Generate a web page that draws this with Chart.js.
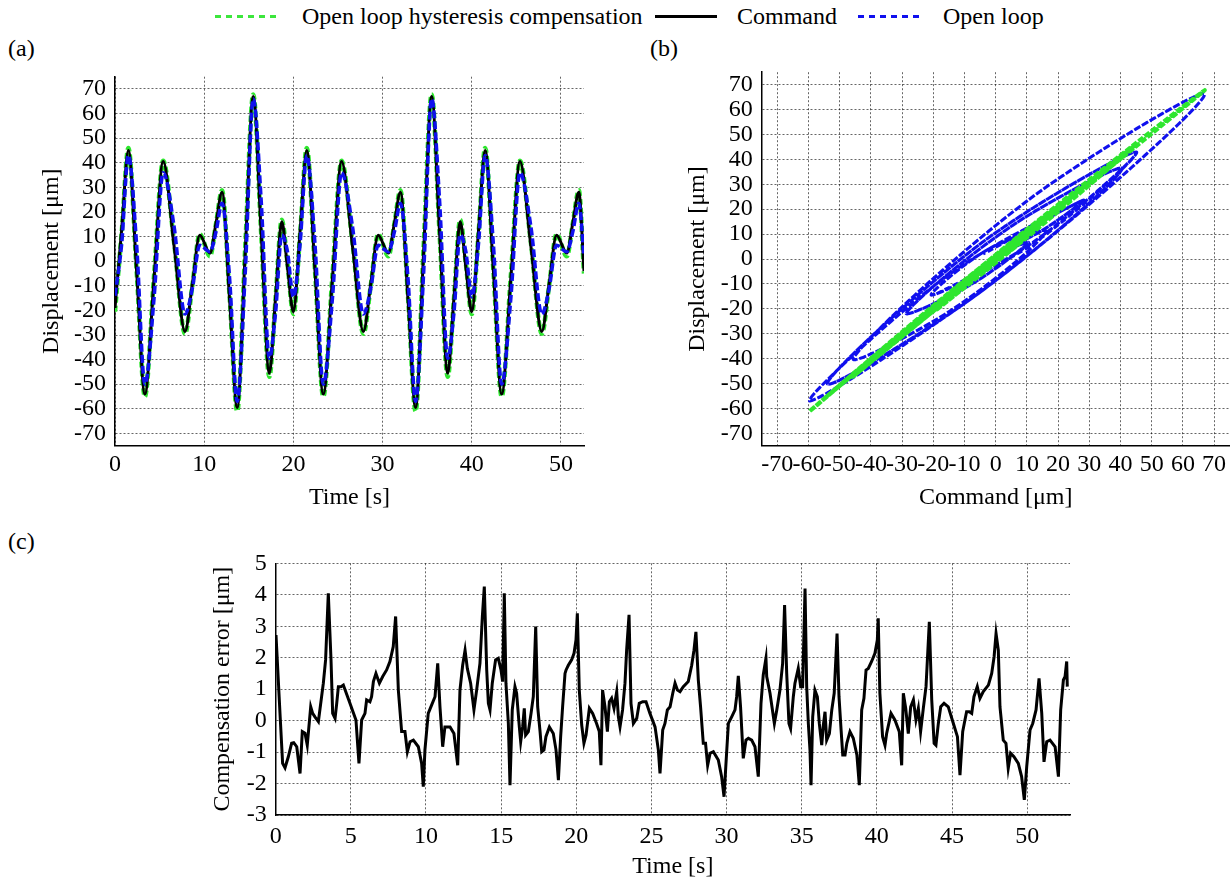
<!DOCTYPE html>
<html>
<head>
<meta charset="utf-8">
<title>Open loop hysteresis compensation</title>
<script src="https://cdn.jsdelivr.net/npm/chart.js@4.4.1/dist/chart.umd.min.js"></script>
<style>
body { margin:0; width:1232px; height:883px; position:relative; background:#fff; overflow:hidden;
       font-family:"Liberation Serif","Times New Roman",serif; color:#000; }
canvas { position:absolute; }
.txt { position:absolute; font-size:24px; line-height:24px; white-space:nowrap; }
.sample { position:absolute; height:3px; top:15px; }
</style>
</head>
<body>

<div class="sample" style="left:215px;width:62px;background:repeating-linear-gradient(to right,#3ce63c 0 6px,transparent 6px 11px)"></div>
<div class="txt" style="left:302px;top:4px">Open loop hysteresis compensation</div>
<div class="sample" style="left:655px;width:62px;background:#000"></div>
<div class="txt" style="left:737px;top:4px">Command</div>
<div class="sample" style="left:858px;width:65px;background:repeating-linear-gradient(to right,#1010ee 0 6px,transparent 6px 11px)"></div>
<div class="txt" style="left:943px;top:4px">Open loop</div>

<div class="txt" style="left:8px;top:36px">(a)</div>
<div class="txt" style="left:650px;top:36px">(b)</div>
<div class="txt" style="left:8px;top:529px">(c)</div>

<canvas id="chartA" width="600" height="470" style="left:0;top:60px"></canvas>
<canvas id="chartB" width="612" height="470" style="left:620px;top:60px"></canvas>
<canvas id="chartC" width="940" height="338" style="left:150px;top:545px"></canvas>

<script>
// time series (a) : extrema and mid-branch points
var tA = [0, 0.75, 1.5, 2.43, 3.35, 4.38, 5.4, 6.63, 7.85, 8.68, 9.5, 10.65, 11.33, 12.0, 12.85, 13.7, 14.6, 15.5, 16.4, 17.3, 18.0, 18.7, 19.33,
          20.0, 20.75, 21.5, 22.43, 23.35, 24.38, 25.4, 26.63, 27.85, 28.68, 29.5, 30.65, 31.33, 32.0, 32.85, 33.7, 34.6, 35.5, 36.4, 37.3, 38.0, 38.7, 39.33,
          40.0, 40.75, 41.5, 42.43, 43.35, 44.38, 45.4, 46.63, 47.85, 48.68, 49.5, 50.65, 51.33, 52.0, 52.58];
var cmdA = [-19, 13, 45, -4.5, -54, -6.8, 40.5, 6, -28.6, -9, 10.5, 3.3, 15.6, 28, -15.8, -59.5, 3.8, 67, 10.8, -45.5, -14.8, 16, -2.3,
            -20.5, 12.3, 45, -4.5, -54, -6.8, 40.5, 6, -28.6, -9, 10.5, 3.3, 15.6, 28, -15.8, -59.5, 3.8, 67, 10.8, -45.5, -14.8, 16, -2.3,
            -20.5, 12.3, 45, -4.5, -54, -6.8, 40.5, 6, -28.6, -9, 10.5, 3.3, 15.6, 28, -4];
var openA = [-14, 7, 43, 6.5, -50, -15, 36, 14, -21.5, -11, 6.5, 3.8, 12, 23.6, -7, -57, -5, 66, 24, -39.5, -21, 10.7, 4,
             -14.5, 7, 43, 6.5, -50, -15, 36, 14, -21.5, -11, 6.5, 3.8, 12, 23.6, -7, -57, -5, 66, 24, -39.5, -21, 10.7, 4,
             -14.5, 7, 43, 6.5, -50, -15, 36, 14, -21.5, -11, 6.5, 3.8, 12, 23.6, 2];
var compA = [-20.5, 11.7, 46, -4.2, -55, -5.7, 40.8, 7.4, -29.5, -9.7, 11, 2, 15.4, 28.8, -14.4, -61, 5.6, 67.8, 10.5, -47, -15.3, 16.8, -0.7,
             -21.5, 11, 46, -4.2, -55, -5.7, 40.8, 7.4, -29.5, -9.7, 11, 2, 15.4, 28.8, -14.4, -61, 5.6, 67.8, 10.5, -47, -15.3, 16.8, -0.7,
             -21.5, 11, 46, -4.2, -55, -5.7, 40.8, 7.4, -29.5, -9.7, 11, 2, 15.4, 28.8, -5];

// compensation error (c)
var tErr = [0.02, 0.3, 0.46, 0.62, 0.84, 1.06, 1.2, 1.4, 1.62, 1.77,
  1.95, 2.1, 2.33, 2.46, 2.61, 2.84, 3.17, 3.32, 3.5, 3.68,
  3.79, 3.95, 4.06, 4.17, 4.34, 4.5, 4.94, 5.34, 5.54, 5.72,
  5.94, 6.05, 6.27, 6.38, 6.5, 6.67, 6.9, 7.12, 7.38, 7.6,
  7.82, 7.98, 8.16, 8.38, 8.6, 8.76, 8.94, 9.16, 9.49, 9.71,
  9.82, 9.93, 10.15, 10.38, 10.6, 10.78, 10.93, 11.11, 11.26, 11.6,
  11.86, 12.11, 12.26, 12.44, 12.6, 12.75, 12.97, 13.19, 13.37, 13.59,
  13.75, 13.88, 14.04, 14.15, 14.26, 14.41, 14.63, 14.81, 14.99, 15.1,
  15.21, 15.32, 15.48, 15.59, 15.74, 15.92, 16.03, 16.21, 16.3, 16.43,
  16.54, 16.63, 16.81, 16.99, 17.14, 17.3, 17.43, 17.59, 17.7, 17.85,
  17.98, 18.21, 18.47, 18.65, 18.81, 18.96, 19.09, 19.25, 19.32, 19.47,
  19.69, 19.85, 19.98, 20.07, 20.2, 20.36, 20.51, 20.65, 20.87, 21.09,
  21.35, 21.53, 21.64, 21.75, 21.91, 22.07, 22.2, 22.35, 22.51, 22.69,
  22.8, 22.91, 23.08, 23.24, 23.35, 23.51, 23.64, 23.8, 24.02, 24.19,
  24.42, 24.64, 24.9, 25.24, 25.46, 25.57, 25.75, 25.9, 26.06, 26.24,
  26.42, 26.57, 26.73, 26.9, 27.12, 27.45, 27.68, 27.83, 27.96, 28.12,
  28.27, 28.45, 28.6, 28.74, 28.9, 29.12, 29.45, 29.67, 29.83, 29.96,
  30.12, 30.34, 30.56, 30.67, 30.78, 30.93, 31.11, 31.29, 31.45, 31.67,
  31.89, 32.11, 32.29, 32.44, 32.62, 32.67, 32.89, 33.18, 33.34, 33.55,
  33.73, 33.86, 34.0, 34.15, 34.26, 34.44, 34.55, 34.77, 34.93, 35.06,
  35.22, 35.33, 35.44, 35.55, 35.62, 35.73, 35.88, 36.04, 36.17, 36.33,
  36.44, 36.55, 36.66, 36.84, 37.0, 37.16, 37.35, 37.48, 37.62, 37.73,
  37.88, 38.0, 38.21, 38.43, 38.67, 38.83, 38.99, 39.14, 39.28, 39.43,
  39.65, 39.87, 40.03, 40.09, 40.2, 40.38, 40.54, 40.65, 40.94, 41.2,
  41.49, 41.65, 41.76, 41.92, 42.09, 42.25, 42.43, 42.6, 42.76, 42.91,
  43.09, 43.27, 43.49, 43.65, 43.81, 43.93, 44.09, 44.25, 44.47, 44.75,
  45.09, 45.36, 45.53, 45.71, 45.86, 45.97, 46.15, 46.31, 46.46, 46.68,
  46.86, 47.08, 47.42, 47.64, 47.8, 47.93, 48.08, 48.19, 48.41, 48.59,
  48.74, 48.9, 49.12, 49.41, 49.63, 49.81, 49.97, 50.19, 50.37, 50.59,
  50.79, 50.97, 51.12, 51.3, 51.52, 51.86, 52.08, 52.23, 52.41, 52.52,
  52.63, 52.67];
var errC = [2.72, 0.1, -1.36, -1.5, -1.15, -0.72, -0.7, -0.83, -1.68, -0.35,
  -0.4, -0.78, 0.44, 0.23, 0.12, -0.03, 1.19, 1.93, 4.05, 1.93,
  0.23, 0.07, 0.55, 1.08, 1.08, 1.13, 0.55, 0.02, -1.36, 0.02,
  0.23, 0.66, 0.6, 0.76, 1.24, 1.5, 1.19, 1.4, 1.61, 1.88,
  2.35, 3.31, 0.97, -0.35, -0.35, -0.99, -0.67, -0.62, -0.83, -1.36,
  -2.1, -0.93, 0.23, 0.5, 0.76, 1.82, 0.44, -0.83, -0.2, -0.2,
  -0.41, -1.42, 0.97, 1.76, 2.24, 1.66, 1.19, 0.34, 0.97, 1.82,
  3.31, 4.26, 1.61, 0.55, 0.34, 1.19, 1.93, 1.98, 1.61, 1.24,
  4.05, 1.19, -0.09, -2.05, 0.34, 1.08, 0.87, -0.2, -0.67, -0.2,
  0.39, -0.46, -0.35, 0.23, 0.76, 2.99, 0.44, -0.35, -0.99, -0.93,
  -0.51, -0.2, -0.41, -0.93, -1.89, -0.51, 0.44, 1.5, 1.61, 1.76,
  1.93, 2.14, 2.56, 3.41, 0.97, -0.14, -0.72, -0.46, 0.39, 0.23,
  -0.09, -0.35, -1.42, 0.97, 0.44, -0.35, 0.6, 0.71, 0.39, 0.92,
  0.12, -0.2, 0.34, 1.19, 2.24, 3.36, 0.55, -0.09, 0.07, 0.55,
  0.6, 0.6, 0.23, -0.2, -0.93, -1.68, -0.3, -0.09, 0.34, 0.44,
  0.87, 1.19, 0.97, 0.92, 1.08, 1.24, 1.76, 2.24, 2.82, 1.29,
  0.44, -0.72, -0.72, -1.42, -1.04, -0.99, -1.25, -1.78, -2.42, -1.36,
  -0.09, 0.12, 0.34, 0.76, 1.42, 0.44, -1.2, -0.62, -0.56, -0.62,
  -0.83, -1.78, 0.55, 1.45, 1.98, 1.4, 0.87, -0.09, 0.34, 0.97,
  1.82, 3.67, 1.5, -0.09, -0.25, 0.76, 1.19, 1.66, 1.08, 1.08,
  4.2, 1.08, -0.09, -0.94, -2.05, 0.12, 0.97, 0.76, -0.09, -0.78,
  -0.14, 0.28, -0.62, -0.41, 0.34, 0.87, 2.77, 0.76, -0.3, -1.09,
  -1.09, -0.72, -0.35, -0.56, -1.09, -2.05, 0.34, 0.71, 1.61, 1.66,
  1.88, 2.14, 2.56, 3.25, 0.87, -0.51, -0.78, -0.41, 0.23, 0.02,
  -0.35, -1.42, 0.87, 0.39, -0.41, 0.44, 0.66, 0.02, 0.39, -0.35,
  0.39, 1.08, 3.14, 0.66, -0.72, -0.78, -0.09, 0.44, 0.55, 0.44,
  -0.09, -0.51, -1.73, -0.35, 0.02, 0.28, 0.28, 0.23, 0.76, 1.08,
  0.71, 0.92, 1.13, 1.5, 2.03, 2.77, 2.24, 0.44, -0.62, -0.72,
  -1.52, -1.04, -1.15, -1.36, -1.78, -2.52, -1.46, -0.3, -0.09, 0.34,
  1.34, 0.23, -1.31, -0.67, -0.62, -0.83, -1.78, 0.34, 1.29, 1.4,
  1.88, 1.08];

// tick labels
var ticksTimeA = [0, 10, 20, 30, 40, 50];
var ticksDisp = [-70, -60, -50, -40, -30, -20, -10, 0, 10, 20, 30, 40, 50, 60, 70];
var ticksCmd = [-70, -60, -50, -40, -30, -20, -10, 0, 10, 20, 30, 40, 50, 60, 70];
var ticksTimeC = [0, 5, 10, 15, 20, 25, 30, 35, 40, 45, 50];
var ticksErr = [-3, -2, -1, 0, 1, 2, 3, 4, 5];

var GREEN = '#2ee62e';
var BLUE = '#1010ee';
var SERIF = "'Liberation Serif', serif";

Chart.defaults.font.family = SERIF;
Chart.defaults.font.size = 24;
Chart.defaults.color = '#000';

function pairs(xs, ys) {
  return xs.map(function (x, i) { return { x: x, y: ys[i] }; });
}

// one axis, box size fixed so the plot areas sit where the figure has them
function axis(min, max, tickValues, title, boxSize, titlePad, isX, tickPad) {
  return {
    type: 'linear',
    min: min,
    max: max,
    afterBuildTicks: function (s) { s.ticks = tickValues.map(function (v) { return { value: v }; }); },
    afterFit: function (s) {
      if (isX) { s.height = boxSize; s.paddingLeft = 0; s.paddingRight = 0; }
      else { s.width = boxSize; s.paddingTop = 0; s.paddingBottom = 0; }
    },
    ticks: { autoSkip: false, maxRotation: 0, minRotation: 0, padding: tickPad,
             color: '#000', font: { family: SERIF, size: 24 },
             callback: function (v) { return String(v); } },
    grid: { color: 'rgba(0,0,0,0.6)', lineWidth: 1, drawTicks: false },
    border: { display: true, color: '#000', width: 1.5, dash: [2, 2] },
    title: { display: true, text: title, color: '#000', font: { family: SERIF, size: 24 },
             padding: isX ? { top: 0, bottom: titlePad } : { top: titlePad, bottom: 0 } }
  };
}

var common = {
  responsive: false,
  animation: false,
  devicePixelRatio: 1,
  plugins: { legend: { display: false }, tooltip: { enabled: false } },
  elements: { point: { radius: 0 } }
};

// (a)
new Chart(document.getElementById('chartA'), {
  type: 'line',
  data: { datasets: [
    { data: pairs(tA, openA), borderColor: BLUE, borderWidth: 3.5, borderDash: [8, 3], cubicInterpolationMode: 'monotone' },
    { data: pairs(tA, cmdA), borderColor: '#000', borderWidth: 3, cubicInterpolationMode: 'monotone' },
    { data: pairs(tA, compA), borderColor: GREEN, borderWidth: 4.5, borderDash: [6, 3], cubicInterpolationMode: 'monotone' }
  ]},
  options: Object.assign({}, common, {
    layout: { padding: { left: 0, right: 16, top: 16.7, bottom: 0 } },
    scales: {
      x: axis(0, 52.58, ticksTimeA, 'Time [s]', 84.3, 17.6, true, 5),
      y: axis(-75, 75, ticksDisp, 'Displacement [\u03bcm]', 115, 37.6, false, 9)
    }
  })
});

// (b)
new Chart(document.getElementById('chartB'), {
  type: 'scatter',
  data: { datasets: [
    { data: pairs(cmdA, compA), showLine: true, borderColor: GREEN, borderWidth: 4, borderDash: [6, 2], tension: 0.35 },
    { data: pairs(cmdA, openA), showLine: true, borderColor: BLUE, borderWidth: 3, borderDash: [6, 3], tension: 0.35 }
  ]},
  options: Object.assign({}, common, {
    layout: { padding: { left: 0, right: 2.3, top: 12.2, bottom: 0 } },
    scales: {
      x: axis(-75, 75, ticksCmd, 'Command [\u03bcm]', 84.2, 17.6, true, 5),
      y: axis(-75, 75, ticksDisp, 'Displacement [\u03bcm]', 141.7, 63.1, false, 9)
    }
  })
});

// (c)
new Chart(document.getElementById('chartC'), {
  type: 'line',
  data: { datasets: [
    { data: pairs(tErr, errC), borderColor: '#000', borderWidth: 3, tension: 0 }
  ]},
  options: Object.assign({}, common, {
    layout: { padding: { left: 0, right: 20, top: 18.3, bottom: 0 } },
    scales: {
      x: axis(0, 52.85, ticksTimeC, 'Time [s]', 68, 1.6, true, 7),
      y: axis(-3, 5, ticksErr, 'Compensation error [\u03bcm]', 125.7, 58.6, false, 9)
    }
  })
});
</script>
</body>
</html>
